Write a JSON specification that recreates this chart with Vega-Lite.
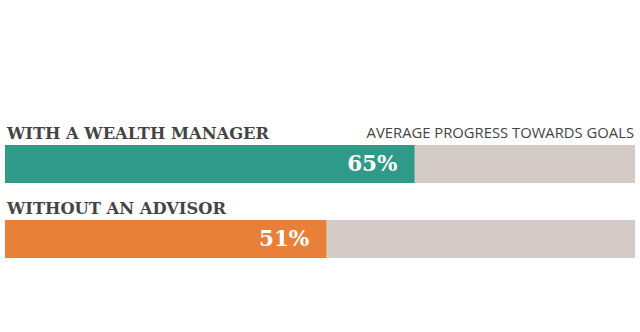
{
  "$schema": "https://vega.github.io/schema/vega-lite/v6.json",
  "width": 630,
  "height": 332,
  "padding": {"left": 5, "right": 5, "top": 0, "bottom": 0},
  "autosize": {"type": "none"},
  "background": "#ffffff",
  "config": {"view": {"stroke": null}},
  "data": {"values": [
    {"group": "WITH A WEALTH MANAGER", "value": 0.65, "total": 1},
    {"group": "WITHOUT AN ADVISOR", "value": 0.51, "total": 1}
  ]},
  "encoding": {
    "y": {"field": "group", "type": "nominal", "axis": null,
      "scale": {"domain": ["WITH A WEALTH MANAGER", "WITHOUT AN ADVISOR"], "range": [145, 258], "paddingInner": 0.4933, "paddingOuter": 0}}
  },
  "layer": [
    {"mark": {"type": "bar", "color": "#d4cac6"},
     "encoding": {"x": {"field": "total", "type": "quantitative", "axis": null, "scale": {"domain": [0, 1], "nice": false}}}},
    {"mark": {"type": "bar"},
     "encoding": {"x": {"field": "value", "type": "quantitative"},
       "color": {"field": "group", "type": "nominal", "legend": null,
         "scale": {"domain": ["WITH A WEALTH MANAGER", "WITHOUT AN ADVISOR"], "range": ["#2e9a87", "#e8803a"]}}}},
    {"mark": {"type": "text", "align": "right", "baseline": "middle", "dx": -17, "dy": 1, "font": "DejaVu Serif", "fontWeight": "bold", "fontSize": 21.5, "color": "#ffffff"},
     "encoding": {"x": {"field": "value", "type": "quantitative"},
       "text": {"field": "value", "type": "quantitative", "format": ".0%"}}},
    {"mark": {"type": "text", "align": "left", "baseline": "alphabetic", "dx": 2, "dy": -6, "font": "DejaVu Serif", "fontWeight": "bold", "fontSize": 16.3, "color": "#444444"},
     "encoding": {"x": {"datum": 0, "type": "quantitative"},
       "y": {"field": "group", "type": "nominal", "bandPosition": 0},
       "text": {"field": "group"}}},
    {"transform": [{"filter": "datum.value == 0.65"}],
     "mark": {"type": "text", "align": "right", "baseline": "alphabetic", "dx": -1, "dy": -7, "font": "Open Sans", "fontSize": 14.8, "color": "#444444"},
     "encoding": {"x": {"datum": 1, "type": "quantitative"},
       "y": {"field": "group", "type": "nominal", "bandPosition": 0},
       "text": {"value": "AVERAGE PROGRESS TOWARDS GOALS"}}}
  ]
}
